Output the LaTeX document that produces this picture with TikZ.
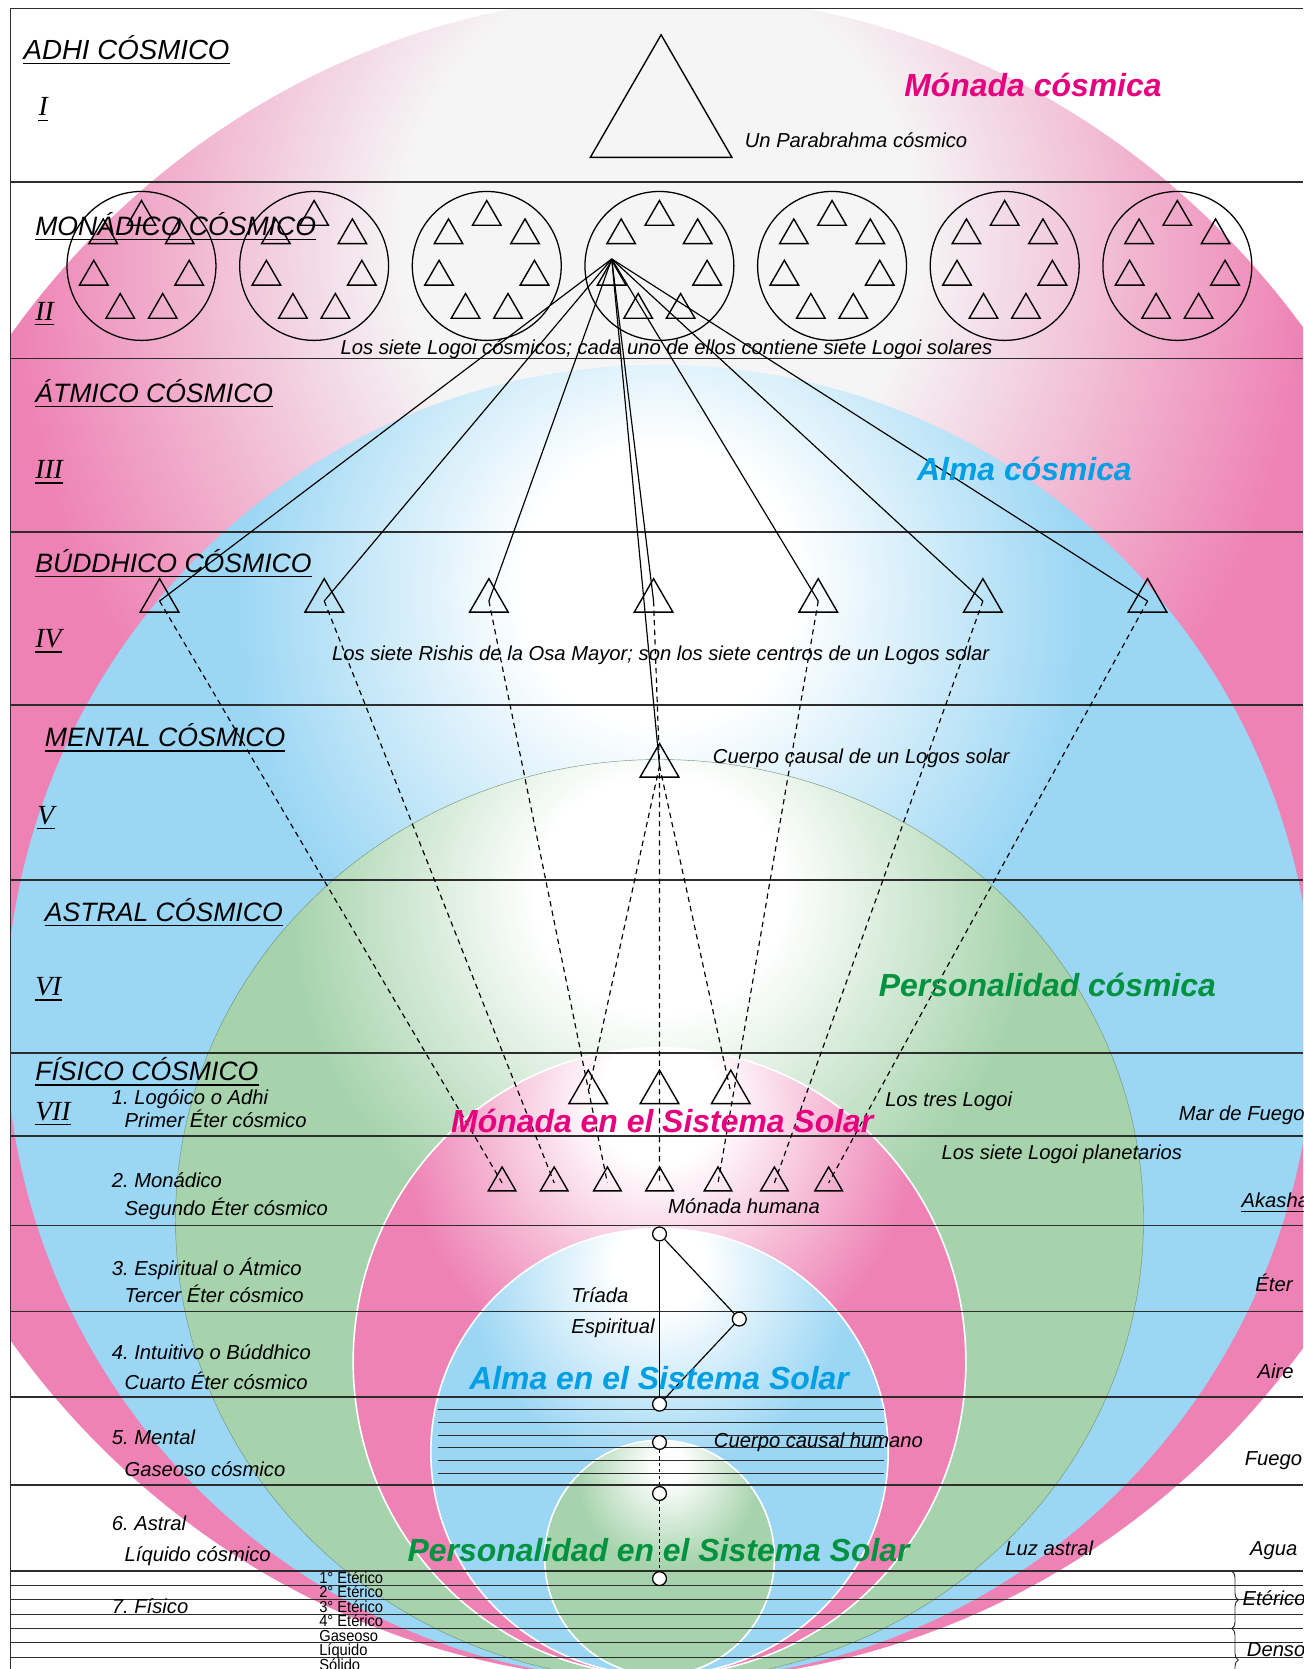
\documentclass[tikz,border=0pt]{standalone}
\usepackage{fontspec}
\setmainfont{Liberation Sans}
\newfontfamily\numfont{Liberation Serif}
\newfontfamily\narrowfont{Liberation Sans}[FakeStretch=0.92]
\usetikzlibrary{shapes.geometric,decorations.pathreplacing}
\frenchspacing

\definecolor{mpink}{RGB}{238,130,180}
\definecolor{mblue}{RGB}{155,214,244}
\definecolor{mgreen}{RGB}{166,211,172}
\definecolor{mgrey}{RGB}{245,245,245}
\definecolor{tmagenta}{RGB}{229,0,126}
\definecolor{tblue}{RGB}{0,159,227}
\definecolor{tgreen}{RGB}{0,146,63}
\definecolor{rule}{RGB}{45,45,45}

\pgfdeclareradialshading{glowmc}{\pgfpoint{0bp}{18.5bp}}{color(0bp)=(mgrey); color(8bp)=(mgrey); color(20bp)=(mpink); color(200bp)=(mpink)}
\pgfdeclareradialshading{glowac}{\pgfpoint{0bp}{17.1bp}}{color(0bp)=(white); color(5.3bp)=(white); color(16.2bp)=(mblue); color(200bp)=(mblue)}
\pgfdeclareradialshading{glowpc}{\pgfpoint{0bp}{18.3bp}}{color(0bp)=(white); color(6.4bp)=(white); color(19bp)=(mgreen); color(200bp)=(mgreen)}
\pgfdeclareradialshading{glowms}{\pgfpoint{0bp}{21.2bp}}{color(0bp)=(white); color(5bp)=(white); color(21bp)=(mpink); color(200bp)=(mpink)}
\pgfdeclareradialshading{glowas}{\pgfpoint{0bp}{21.4bp}}{color(0bp)=(white); color(5bp)=(white); color(21bp)=(mblue); color(200bp)=(mblue)}
\pgfdeclareradialshading{glowps}{\pgfpoint{2bp}{20bp}}{color(0bp)=(white); color(3.4bp)=(white); color(20bp)=(mgreen); color(200bp)=(mgreen)}

\begin{document}
\begin{tikzpicture}[x=1pt,y=-1pt,
  tri/.style={regular polygon, regular polygon sides=3, draw=black, line width=1.3pt, inner sep=0pt, minimum size=#1},
  orb/.style={circle, draw=black, line width=1.2pt, minimum size=140, inner sep=0pt},
  triadpt/.style={circle, draw=black, fill=white, line width=1.2pt, minimum size=13, inner sep=0pt},
  ray/.style={line width=1.1pt},
  raydash/.style={line width=1.1pt, dash pattern=on 5pt off 4pt},
  planeline/.style={draw=rule, line width=1.5pt},
  thinline/.style={draw=rule, line width=0.9pt},
  plane/.style={anchor=base west, inner sep=0pt, font=\fontsize{25}{28}\selectfont\itshape},
  numeral/.style={anchor=base west, inner sep=0pt, font=\fontsize{26}{30}\selectfont\numfont\itshape},
  lbl/.style={anchor=base west, inner sep=0pt, font=\fontsize{19}{22}\selectfont\itshape},
  region/.style={anchor=base west, inner sep=0pt, font=\fontsize{30}{34}\selectfont\bfseries\itshape},
  etheric/.style={anchor=base west, inner sep=0pt, font=\fontsize{15}{15}\selectfont\narrowfont},
]
\useasboundingbox (0,0) rectangle (1225,1569);

\begin{scope}
\clip (10,8) rectangle (1225,1569);
\shade[shading=glowmc] (620,787.5) ellipse [x radius=760, y radius=792.5];
\shade[shading=glowac] (620,961.5) ellipse [x radius=615, y radius=618.5];
\shade[shading=glowpc, draw=mgreen!70!black, line width=0.4pt] (620,1147) ellipse [x radius=455, y radius=433];
\shade[shading=glowms, draw=white, line width=1.5pt] (620,1280) ellipse [x radius=288, y radius=295];
\shade[shading=glowas, draw=white, line width=1.5pt] (620,1365) ellipse [x radius=215, y radius=210];
\shade[shading=glowps, draw=white, line width=1.5pt] (620,1464.5) ellipse [x radius=108, y radius=110.5];
\end{scope}

\draw[planeline] (1225,8) -- (10,8) -- (10,1569);
\foreach \y in {171,337,500,663,827,990,1068,1152,1233,1313,1396,1477}
  \draw[planeline] (10,\y) -- (1225,\y);
\foreach \y in {1490.5,1504,1517.5,1531,1544.5,1558}
  \draw[thinline] (10,\y) -- (1225,\y);
\foreach \y in {1325,1337,1349,1361,1373,1385}
  \draw[thinline] (412,\y) -- (831,\y);

\draw[thinline, decorate, decoration={brace, amplitude=6pt}] (1158,1477) -- (1158,1531);
\draw[thinline, decorate, decoration={brace, amplitude=6pt}] (1158,1531) -- (1158,1590);

\node[tri=153.6] (parabrahma) at (621.5,109.5) {};
\foreach \i in {1,...,7} {
  \pgfmathsetmacro\cx{133+(\i-1)*162.3}
  \node[orb] (c\i) at (\cx,250) {};
  \foreach \k in {1,...,7} {
    \pgfmathsetmacro\a{90+(\k-1)*360/7}
    \node[tri=31] (s\i\k) at ({\cx+46*cos(\a)},{250-46*sin(\a)}) {};
  }
}
\foreach \i in {1,...,7}
  \node[tri=42] (r\i) at ({150+(\i-1)*154.8},565) {};
\node[tri=42] (causal) at (620,720) {};
\foreach \i/\x in {1/553,2/620,3/687}
  \node[tri=42] (l\i) at (\x,1027) {};
\foreach \i/\x in {1/472,2/521,3/571,4/620,5/675,6/728,7/779}
  \node[tri=30] (m\i) at (\x,1112) {};

\foreach \i in {1,...,7}
  \draw[ray] (s43.corner 1) -- (r\i.center);
\draw[ray] (s43.corner 1) -- (causal.center);
\foreach \i in {1,2,3,5,6,7}
  \draw[raydash] (r\i.center) -- (m\i.center);
\draw[raydash] (r4.center) -- (causal.center) -- (l2.center) -- (m4.center);
\draw[raydash] (causal.center) -- (l1.center);
\draw[raydash] (causal.center) -- (l3.center);

\node[triadpt] (d1) at (620,1160) {};
\node[triadpt] (d2) at (695,1240) {};
\node[triadpt] (d3) at (620,1320) {};
\node[triadpt] (d4) at (620,1356) {};
\node[triadpt] (d5) at (620,1404) {};
\node[triadpt] (d6) at (620,1484) {};
\draw[ray] (d1) -- (d3);
\draw[ray] (d1) -- (d2) -- (d3);
\draw[ray, dash pattern=on 3pt off 3pt] (d4) -- (d5) -- (d6);

\node[plane, font=\fontsize{26}{28}\selectfont\itshape] (p1) at (22,56) {ADHI CÓSMICO};
\foreach \i/\x/\y/\t in {2/33/221/MONÁDICO CÓSMICO, 3/33/378/ÁTMICO CÓSMICO,
    4/33/538/BÚDDHICO CÓSMICO, 5/42/702/MENTAL CÓSMICO, 6/42/866/ASTRAL CÓSMICO, 7/33/1016/FÍSICO CÓSMICO}
  \node[plane] (p\i) at (\x,\y) {\t};
\foreach \i/\x/\y/\t in {1/36/109/I, 2/33/301/II, 3/33/450/III, 4/33/609/IV, 5/35/775/V, 6/33/936/VI, 7/33/1053/VII}
  \node[numeral] (n\i) at (\x,\y) {\t};
\foreach \i in {1,...,7} {
  \draw[line width=1.1pt] ([yshift=-4pt]p\i.base west) -- ([yshift=-4pt]p\i.base east);
  \draw[line width=1.1pt] ([yshift=-4pt]n\i.base west) -- ([yshift=-4pt]n\i.base east);
}

\foreach \i/\x/\y/\t in {1/105/1038/1. Logóico o Adhi, 2/117/1060/Primer Éter cósmico,
    3/105/1116/2. Monádico, 4/117/1143/Segundo Éter cósmico,
    5/105/1199/3. Espiritual o Átmico, 6/117/1224/Tercer Éter cósmico,
    7/105/1278/4. Intuitivo o Búddhico, 8/117/1306/Cuarto Éter cósmico,
    9/105/1358/5. Mental, 10/117/1388/Gaseoso cósmico,
    11/105/1439/6. Astral, 12/117/1468/Líquido cósmico, 13/105/1517/7. Físico}
  \node[lbl] (sub\i) at (\x,\y) {\t};
\foreach \i/\t in {0/1° Etérico, 1/2° Etérico, 2/3° Etérico, 3/4° Etérico, 4/Gaseoso, 5/Líquido, 6/Sólido}
  \node[etheric] (f\i) at (300,{1488.5+13.6*\i}) {\t};
\foreach \i/\x/\y/\t in {1/1108/1053/Mar de Fuego, 2/1167/1135/Akasha, 3/1180/1214/Éter, 4/1182/1296/Aire,
    5/1170/1378/Fuego, 6/1175/1462/Agua, 7/1168/1509/Etérico, 8/1172/1557/Denso}
  \node[lbl] (e\i) at (\x,\y) {\t};
\draw[line width=1pt] ([yshift=-4pt]e2.base west) -- ([yshift=-4pt]e2.base east);

\node[lbl] (parabtxt) at (700,139) {Un Parabrahma cósmico};
\node[lbl] (logoitxt) at (320,333) {Los siete Logoi cósmicos; cada uno de ellos contiene siete Logoi solares};
\node[lbl] (rishitxt) at (312,621) {Los siete Rishis de la Osa Mayor; son los siete centros de un Logos solar};
\node[lbl] (causaltxt) at (670,718) {Cuerpo causal de un Logos solar};
\node[lbl] (trestxt) at (832,1040) {Los tres Logoi};
\node[lbl] (planettxt) at (885,1090) {Los siete Logoi planetarios};
\node[lbl] (humtxt) at (628,1141) {Mónada humana};
\node[lbl] (triadtxt) at (537,1224) {Tríada};
\node[lbl] (espirtxt) at (537,1254) {Espiritual};
\node[lbl] (cchtxt) at (671,1361) {Cuerpo causal humano};
\node[lbl] (luztxt) at (945,1462) {Luz astral};

\node[region, text=tmagenta] (mc) at (850,91) {Mónada cósmica};
\node[region, text=tblue] (ac) at (862,452) {Alma cósmica};
\node[region, text=tgreen] (pc) at (826,937) {Personalidad cósmica};
\node[region, text=tmagenta] (ms) at (424,1065) {Mónada en el Sistema Solar};
\node[region, text=tblue] (as) at (441,1306) {Alma en el Sistema Solar};
\node[region, text=tgreen] (ps) at (383,1468) {Personalidad en el Sistema Solar};
\end{tikzpicture}
\end{document}
